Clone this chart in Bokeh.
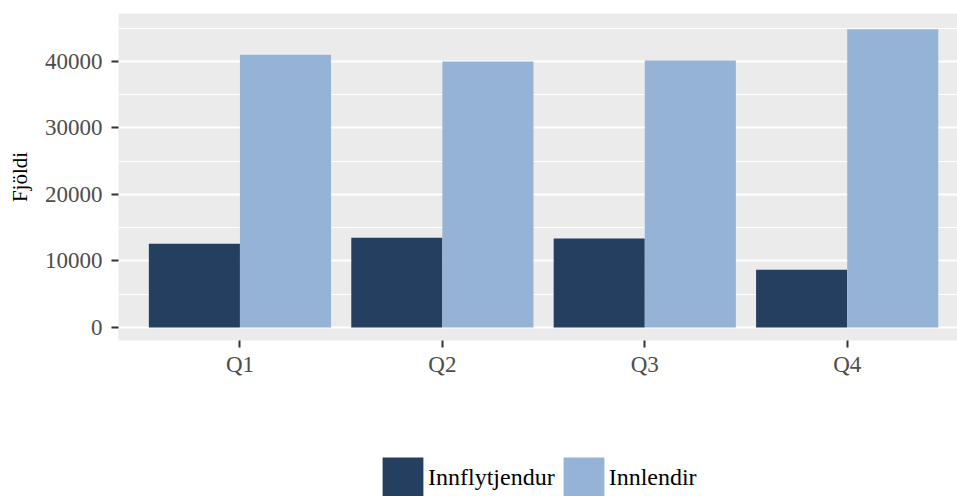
from bokeh.plotting import figure
from bokeh.models import (ColumnDataSource, FixedTicker, SingleIntervalTicker,
                          Legend, LegendItem, Range1d)
from bokeh.layouts import column
from bokeh.transform import dodge
from bokeh.embed import file_html
from bokeh.resources import INLINE

quarters = ["Q1", "Q2", "Q3", "Q4"]
quarter_pos = [1, 2, 3, 4]
innflytjendur = [12600, 13500, 13400, 8700]
innlendir = [41000, 40000, 40150, 44850]
series_names = ["Innflytjendur", "Innlendir"]
colors = ["#243F60", "#95B3D7"]

src = ColumnDataSource(dict(x=quarter_pos, a=innflytjendur, b=innlendir))

FONT = "Liberation Serif"

p = figure(width=957, height=420, output_backend="svg", toolbar_location=None,
           x_range=Range1d(0.4, 4.545), y_range=Range1d(-1955, 47218),
           min_border_left=118, min_border_right=0, min_border_top=13,
           min_border_bottom=80)
p.background_fill_color = "#EBEBEB"
p.border_fill_color = "white"
p.outline_line_color = None

p.vbar(x=dodge("x", -0.225, range=p.x_range), top="a", bottom=0, width=0.45,
       source=src, fill_color=colors[0], line_color=None)
p.vbar(x=dodge("x", 0.225, range=p.x_range), top="b", bottom=0, width=0.45,
       source=src, fill_color=colors[1], line_color=None)

# y axis
p.yaxis.ticker = SingleIntervalTicker(interval=10000, num_minor_ticks=2)
p.yaxis.axis_label = "Fjöldi"
p.yaxis.axis_label_text_font = FONT
p.yaxis.axis_label_text_font_style = "normal"
p.yaxis.axis_label_text_font_size = "21px"
p.yaxis.axis_label_text_color = "black"
p.yaxis.axis_label_standoff = 10

# x axis
p.xaxis.ticker = FixedTicker(ticks=quarter_pos)
p.xaxis.major_label_overrides = {q: lab for q, lab in zip(quarter_pos, quarters)}

for ax in (p.xaxis, p.yaxis):
    ax.axis_line_color = None
    ax.major_tick_in = 0
    ax.major_tick_out = 7
    ax.major_tick_line_color = "#333333"
    ax.major_tick_line_width = 2
    ax.minor_tick_line_color = None
    ax.major_label_text_font = FONT
    ax.major_label_text_font_size = "23px"
    ax.major_label_text_color = "#4D4D4D"
p.xaxis.major_label_standoff = 4
p.yaxis.major_label_standoff = 9

# grid
p.ygrid.grid_line_color = "white"
p.ygrid.grid_line_width = 2
p.ygrid.minor_grid_line_color = "white"
p.ygrid.minor_grid_line_width = 1
p.xgrid.grid_line_color = None

# legend strip: key renderers are hidden, only used for the legend swatches
q = figure(width=957, height=76, output_backend="svg", toolbar_location=None,
           x_range=Range1d(0.4, 4.545), y_range=Range1d(-2e6, -1e6),
           x_axis_location=None, y_axis_location=None,
           min_border_left=0, min_border_right=0, min_border_top=0,
           min_border_bottom=0)
q.outline_line_color = None
q.grid.grid_line_color = None
q.background_fill_color = "white"
k1 = q.vbar(x=dodge("x", -0.225, range=q.x_range), top="a", bottom=0, width=0.45,
            source=src, fill_color=colors[0], line_color=None, visible=False)
k2 = q.vbar(x=dodge("x", 0.225, range=q.x_range), top="b", bottom=0, width=0.45,
            source=src, fill_color=colors[1], line_color=None, visible=False)

legend = Legend(items=[LegendItem(label=series_names[0], renderers=[k1]),
                       LegendItem(label=series_names[1], renderers=[k2])],
                location=(259, -7), orientation="horizontal",
                glyph_width=51, glyph_height=51, padding=0, margin=0,
                spacing=3, label_standoff=0, border_line_color=None,
                background_fill_alpha=0, label_text_font=FONT,
                label_text_font_size="24px", label_text_color="black",
                label_height=51, inactive_fill_alpha=0)
q.add_layout(legend)

layout = column(p, q, spacing=0)
open("out.html", "w").write(file_html(layout, INLINE))
